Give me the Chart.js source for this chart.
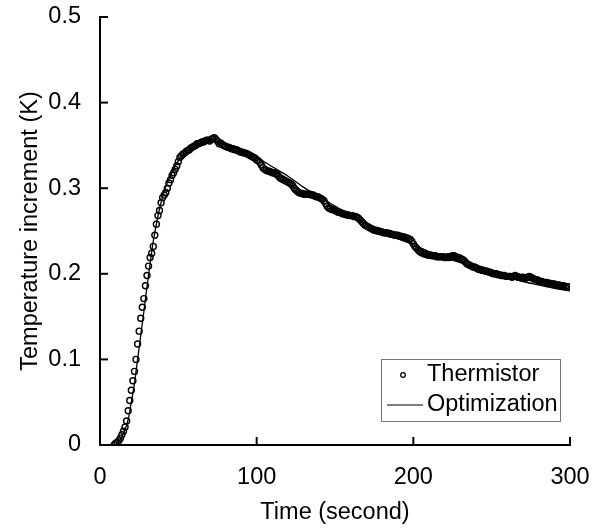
<!DOCTYPE html>
<html><head><meta charset="utf-8">
<script src="https://cdn.jsdelivr.net/npm/chart.js@4"></script>
<style>html,body{margin:0;padding:0;background:#fff}#wrap{width:599px;height:529px}</style>
</head><body><div id="wrap"><canvas id="c" width="599" height="529"></canvas></div>
<script>
const thermTime = [9,
10,11,12,13,14,15,16,17,18,19,
20,21,22,23,24,25,26,27,28,29,
30,31,32,33,34,35,36,37,38,39,
40,41,42,43,44,45,46,47,48,49,
50,51,52,53,54,55,56,57,58,59,
60,61,62,63,64,65,66,67,68,69,
70,71,72,73,74,75,76,77,78,79,
80,81,82,83,84,85,86,87,88,89,
90,91,92,93,94,95,96,97,98,99,
100,101,102,103,104,105,106,107,108,109,
110,111,112,113,114,115,116,117,118,119,
120,121,122,123,124,125,126,127,128,129,
130,131,132,133,134,135,136,137,138,139,
140,141,142,143,144,145,146,147,148,149,
150,151,152,153,154,155,156,157,158,159,
160,161,162,163,164,165,166,167,168,169,
170,171,172,173,174,175,176,177,178,179,
180,181,182,183,184,185,186,187,188,189,
190,191,192,193,194,195,196,197,198,199,
200,201,202,203,204,205,206,207,208,209,
210,211,212,213,214,215,216,217,218,219,
220,221,222,223,224,225,226,227,228,229,
230,231,232,233,234,235,236,237,238,239,
240,241,242,243,244,245,246,247,248,249,
250,251,252,253,254,255,256,257,258,259,
260,261,262,263,264,265,266,267,268,269,
270,271,272,273,274,275,276,277,278,279,
280,281,282,283,284,285,286,287,288,289,
290,291,292,293,294,295,296,297,298,299];
const thermTemp = [0.000,
0.002,0.003,0.005,0.008,0.012,0.016,0.021,0.028,0.040,0.052,
0.064,0.075,0.086,0.100,0.118,0.133,0.148,0.161,0.171,0.186,
0.198,0.209,0.219,0.224,0.232,0.245,0.258,0.268,0.274,0.283,
0.289,0.292,0.295,0.300,0.306,0.310,0.315,0.318,0.322,0.326,
0.331,0.336,0.338,0.340,0.341,0.343,0.344,0.345,0.347,0.348,
0.349,0.350,0.352,0.352,0.353,0.354,0.354,0.355,0.356,0.356,
0.355,0.357,0.358,0.359,0.357,0.355,0.352,0.353,0.351,0.350,
0.349,0.348,0.348,0.347,0.346,0.346,0.345,0.345,0.344,0.343,
0.342,0.342,0.341,0.341,0.340,0.339,0.338,0.337,0.336,0.335,
0.333,0.332,0.330,0.327,0.324,0.322,0.321,0.320,0.320,0.319,
0.318,0.318,0.317,0.316,0.314,0.312,0.311,0.310,0.309,0.308,
0.307,0.306,0.305,0.303,0.300,0.298,0.296,0.295,0.294,0.294,
0.293,0.293,0.293,0.293,0.293,0.292,0.292,0.291,0.290,0.290,
0.289,0.288,0.287,0.285,0.282,0.279,0.277,0.276,0.275,0.275,
0.274,0.273,0.272,0.272,0.271,0.270,0.270,0.269,0.269,0.268,
0.268,0.268,0.267,0.267,0.266,0.265,0.263,0.261,0.259,0.257,
0.256,0.255,0.254,0.253,0.252,0.251,0.251,0.250,0.250,0.249,
0.249,0.248,0.248,0.248,0.247,0.247,0.246,0.246,0.245,0.245,
0.245,0.244,0.244,0.243,0.243,0.242,0.242,0.241,0.240,0.238,
0.235,0.232,0.230,0.228,0.226,0.225,0.224,0.223,0.223,0.222,
0.222,0.222,0.221,0.221,0.221,0.220,0.220,0.220,0.220,0.220,
0.219,0.219,0.220,0.219,0.220,0.221,0.221,0.220,0.219,0.219,
0.218,0.217,0.216,0.214,0.212,0.211,0.210,0.209,0.208,0.208,
0.207,0.206,0.205,0.205,0.204,0.204,0.203,0.203,0.202,0.202,
0.201,0.200,0.200,0.200,0.199,0.199,0.198,0.198,0.198,0.197,
0.197,0.197,0.197,0.196,0.197,0.198,0.197,0.196,0.196,0.195,
0.196,0.195,0.195,0.196,0.197,0.196,0.195,0.194,0.193,0.193,
0.192,0.191,0.191,0.190,0.190,0.190,0.189,0.189,0.188,0.188,
0.188,0.187,0.187,0.187,0.186,0.186,0.186,0.185,0.185,0.185];
const optTime = [10,12,14,16,18,20,22,24,26,28,30,32,34,36,38,40,42,44,46,48,50,55,60,65,70,75,80,90,100,110,120,130,140,150,160,170,180,190,200,210,220,230,240,250,260,270,280,290,300];
const optTemp = [0.000,0.004,0.010,0.018,0.030,0.050,0.072,0.100,0.128,0.156,0.185,0.212,0.238,0.258,0.276,0.290,0.302,0.311,0.319,0.326,0.332,0.342,0.349,0.353,0.355,0.354,0.351,0.344,0.336,0.325,0.314,0.301,0.290,0.279,0.268,0.258,0.249,0.241,0.234,0.226,0.219,0.213,0.206,0.201,0.196,0.191,0.187,0.183,0.180];
const seriesNames = ['Thermistor','Optimization'];
const xTitle = 'Time (second)';
const yTitle = 'Temperature increment (K)';
const xRange = [0, 300], xStep = 100;
const yRange = [0, 0.5], yStep = 0.1;

const FONT = "'Liberation Sans', Arial, sans-serif";
const FS = 23.5;

const inwardTicks = {
  id: 'inwardTicks',
  afterDraw(chart) {
    const {ctx, chartArea: a, scales: {x, y}} = chart;
    ctx.save();
    ctx.strokeStyle = '#000';
    ctx.lineWidth = 2;
    x.ticks.forEach((t, i) => {
      const px = x.getPixelForTick(i);
      ctx.beginPath(); ctx.moveTo(px, a.bottom); ctx.lineTo(px, a.bottom - 8); ctx.stroke();
    });
    y.ticks.forEach((t, i) => {
      const py = y.getPixelForTick(i);
      ctx.beginPath(); ctx.moveTo(a.left, py); ctx.lineTo(a.left + 8, py); ctx.stroke();
    });
    ctx.restore();
  }
};

const boxLegend = {
  id: 'boxLegend',
  afterDraw(chart) {
    const {ctx, chartArea: a} = chart;
    const ds = chart.data.datasets;
    const left = a.right - 189, right = a.right - 10, bottom = a.bottom - 24, top = a.bottom - 86;
    ctx.save();
    ctx.fillStyle = '#fff';
    ctx.fillRect(left, top, right - left, bottom - top);
    ctx.strokeStyle = '#777';
    ctx.lineWidth = 1;
    ctx.strokeRect(left + 0.5, top + 0.5, right - left, bottom - top);
    const rows = [top + 16, top + 46];
    ctx.beginPath();
    ctx.arc(left + 22, rows[0], 2.3, 0, Math.PI * 2);
    ctx.strokeStyle = ds[0].borderColor; ctx.lineWidth = 1.3; ctx.stroke();
    ctx.beginPath();
    ctx.moveTo(left + 6, rows[1]); ctx.lineTo(left + 42, rows[1]);
    ctx.strokeStyle = ds[1].borderColor; ctx.lineWidth = 1.2; ctx.stroke();
    ctx.fillStyle = '#000';
    ctx.font = FS + 'px ' + FONT;
    ctx.textBaseline = 'middle';
    ctx.textAlign = 'left';
    ctx.fillText(ds[0].label, left + 46, rows[0]);
    ctx.fillText(ds[1].label, left + 46, rows[1]);
    ctx.restore();
  }
};

new Chart(document.getElementById('c'), {
  type: 'scatter',
  data: {
    datasets: [
      {
        label: seriesNames[0],
        data: thermTime.map((t, i) => ({x: t, y: thermTemp[i]})),
        showLine: false,
        pointStyle: 'circle',
        pointRadius: 3,
        pointBorderWidth: 1.4,
        borderColor: '#000',
        backgroundColor: 'rgba(255,255,255,0)',
        order: 2
      },
      {
        label: seriesNames[1],
        data: optTime.map((t, i) => ({x: t, y: optTemp[i]})),
        showLine: true,
        tension: 0.4,
        cubicInterpolationMode: 'monotone',
        pointRadius: 0,
        borderColor: '#000',
        borderWidth: 1.3,
        backgroundColor: '#000',
        order: 1
      }
    ]
  },
  options: {
    responsive: false,
    animation: false,
    devicePixelRatio: 1,
    layout: {padding: {left: 0, top: 17, right: 29, bottom: 0}},
    plugins: {legend: {display: false}, tooltip: {enabled: false}},
    scales: {
      x: {
        type: 'linear',
        min: xRange[0], max: xRange[1],
        afterFit(s) { s.height = 84; s.paddingLeft = 0; s.paddingRight = 0; s.paddingTop = 0; s.paddingBottom = 0; },
        grid: {display: false},
        border: {display: true, color: '#000', width: 2},
        ticks: {stepSize: xStep, color: '#000', padding: 10, font: {family: FONT, size: FS}},
        title: {display: true, text: xTitle, color: '#000', font: {family: FONT, size: FS}, padding: {top: 0, bottom: 2}}
      },
      y: {
        type: 'linear',
        min: yRange[0], max: yRange[1],
        afterFit(s) { s.width = 100; s.paddingLeft = 0; s.paddingRight = 0; s.paddingTop = 0; s.paddingBottom = 0; },
        grid: {display: false},
        border: {display: true, color: '#000', width: 2},
        ticks: {stepSize: yStep, color: '#000', padding: 11, font: {family: FONT, size: FS},
          callback: v => (Math.abs(v) < 1e-9 ? '0' : v.toFixed(1))},
        title: {display: true, text: yTitle, color: '#000', font: {family: FONT, size: FS}, padding: {top: 16, bottom: 0}}
      }
    }
  },
  plugins: [inwardTicks, boxLegend]
});
</script></body></html>
